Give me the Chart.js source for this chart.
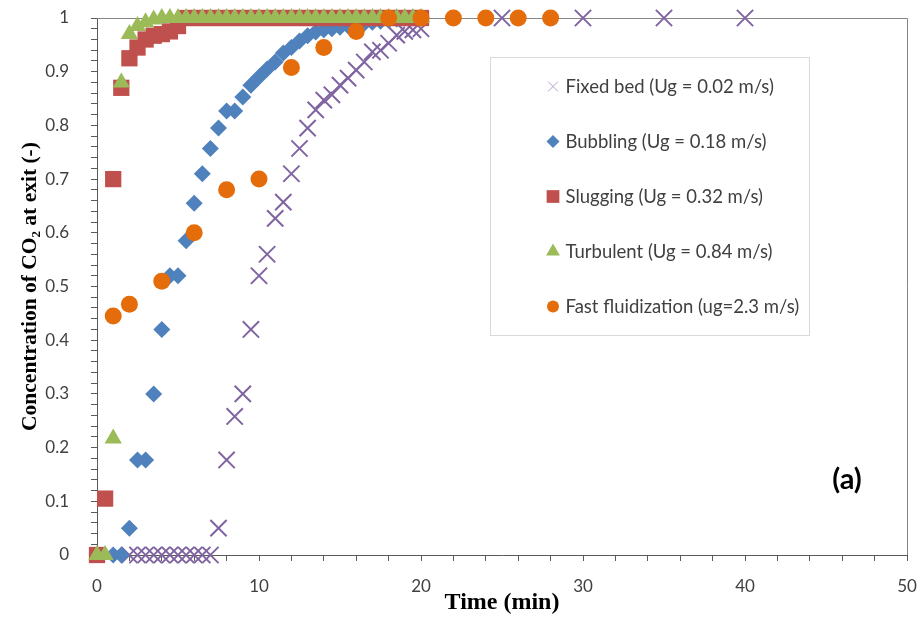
<!DOCTYPE html>
<html>
<head>
<meta charset="utf-8">
<script src="https://cdn.jsdelivr.net/npm/chart.js@4.4.0/dist/chart.umd.min.js"></script>
<style>
body { margin: 0; background: #ffffff; }
</style>
</head>
<body>
<canvas id="co2Chart" width="923" height="617"></canvas>
<script>
// Fixed bed (Ug = 0.02 m/s)
const fixedTime = [2, 2.5, 3, 3.5, 4, 4.5, 5, 5.5, 6, 6.5, 7, 7.5, 8, 8.5, 9, 9.5, 10, 10.5, 11, 11.5, 12, 12.5, 13, 13.5, 14, 14.5, 15, 15.5, 16, 16.5, 17, 17.5, 18, 18.5, 19, 19.5, 20, 25, 30, 35, 40];
const fixedConc = [0, 0, 0, 0, 0, 0, 0, 0, 0, 0, 0, 0.05, 0.177, 0.258, 0.30, 0.42, 0.52, 0.56, 0.627, 0.657, 0.71, 0.757, 0.795, 0.829, 0.847, 0.857, 0.875, 0.888, 0.903, 0.918, 0.937, 0.94, 0.953, 0.968, 0.975, 0.978, 0.98, 1, 1, 1, 1];

// Bubbling (Ug = 0.18 m/s)
const bubblingTime = [1, 1.5, 2, 2.5, 3, 3.5, 4, 4.5, 5, 5.5, 6, 6.5, 7, 7.5, 8, 8.5, 9, 9.5, 10, 10.5, 11, 11.5, 12, 12.5, 13, 13.5, 14, 14.5, 15, 15.5, 16, 16.5, 17, 17.5, 18, 18.5, 19, 19.5, 20];
const bubblingConc = [0, 0, 0.05, 0.177, 0.177, 0.30, 0.42, 0.52, 0.52, 0.585, 0.655, 0.71, 0.757, 0.795, 0.827, 0.827, 0.853, 0.875, 0.89, 0.905, 0.918, 0.935, 0.945, 0.957, 0.967, 0.974, 0.978, 0.98, 0.983, 0.985, 0.988, 0.99, 0.992, 0.994, 0.996, 0.998, 1, 1, 1];

// Slugging (Ug = 0.32 m/s)
const sluggingTime = [0, 0.5, 1, 1.5, 2, 2.5, 3, 3.5, 4, 4.5, 5, 5.5, 6, 6.5, 7, 7.5, 8, 8.5, 9, 9.5, 10, 10.5, 11, 11.5, 12, 12.5, 13, 13.5, 14, 14.5, 15, 15.5, 16, 16.5, 17, 17.5, 18, 18.5, 19, 19.5, 20];
const sluggingConc = [0, 0.105, 0.70, 0.87, 0.925, 0.945, 0.96, 0.967, 0.97, 0.975, 0.985, 1, 1, 1, 1, 1, 1, 1, 1, 1, 1, 1, 1, 1, 1, 1, 1, 1, 1, 1, 1, 1, 1, 1, 1, 1, 1, 1, 1, 1, 1];

// Turbulent (Ug = 0.84 m/s)
const turbulentTime = [0, 0.5, 1, 1.5, 2, 2.5, 3, 3.5, 4, 4.5, 5, 5.5, 6, 6.5, 7, 7.5, 8, 8.5, 9, 9.5, 10, 10.5, 11, 11.5, 12, 12.5, 13, 13.5, 14, 14.5, 15, 15.5, 16, 16.5, 17, 17.5, 18, 18.5, 19, 19.5, 20];
const turbulentConc = [0, 0, 0.217, 0.88, 0.97, 0.985, 0.992, 0.997, 1, 1, 1, 1, 1, 1, 1, 1, 1, 1, 1, 1, 1, 1, 1, 1, 1, 1, 1, 1, 1, 1, 1, 1, 1, 1, 1, 1, 1, 1, 1, 1, 1];

// Fast fluidization (ug=2.3 m/s)
const fastTime = [1, 2, 4, 6, 8, 10, 12, 14, 16, 18, 20, 22, 24, 26, 28];
const fastConc = [0.445, 0.467, 0.51, 0.60, 0.68, 0.70, 0.908, 0.945, 0.975, 1, 1, 1, 1, 1, 1];

const seriesNames = [
    'Fixed bed (Ug = 0.02 m/s)',
    'Bubbling (Ug = 0.18 m/s)',
    'Slugging (Ug = 0.32 m/s)',
    'Turbulent (Ug = 0.84 m/s)',
    'Fast fluidization (ug=2.3 m/s)'
];

const xTickValues = [0, 10, 20, 30, 40, 50];
const yTickValues = [0, 0.1, 0.2, 0.3, 0.4, 0.5, 0.6, 0.7, 0.8, 0.9, 1];

function toPoints(times, values) {
    var pts = [];
    for (var i = 0; i < times.length; i++) {
        pts.push({ x: times[i], y: values[i] });
    }
    return pts;
}

function pickLabel(value, list) {
    for (var i = 0; i < list.length; i++) {
        if (Math.abs(value - list[i]) < 1e-6) return String(list[i]);
    }
    return '';
}

Chart.defaults.font.family = "Lato";
Chart.defaults.font.size = 17;
Chart.defaults.color = "#404040";

// legend marker look, same order as seriesNames
const legendMarks = [
    { pointStyle: 'crossRot', radius: 7, borderWidth: 1, color: '#B3A2C7' },
    { pointStyle: 'rectRot', radius: 6.5, borderWidth: 0, color: '#4F81BD' },
    { pointStyle: 'rect', radius: 9, borderWidth: 0, color: '#C0504D' },
    { pointStyle: 'triangle', radius: 8, borderWidth: 0, color: '#9BBB59' },
    { pointStyle: 'circle', radius: 6, borderWidth: 0, color: '#E46C0A' }
];

let framePlugin = {
    id: 'frame_legend',
    beforeDatasetsDraw: (chart) => {
        const ctx = chart.ctx;
        const a = chart.chartArea;
        ctx.save();
        ctx.strokeStyle = '#868686';
        ctx.lineWidth = 1;
        ctx.beginPath();
        ctx.moveTo(a.left, a.top + 0.5);
        ctx.lineTo(a.right + 0.5, a.top + 0.5);
        ctx.lineTo(a.right + 0.5, a.bottom);
        ctx.stroke();
        ctx.restore();
    },
    afterDatasetsDraw: (chart) => {
        const ctx = chart.ctx;
        const a = chart.chartArea;
        const bx = a.left + 393.5;
        const by = a.top + 39.5;
        ctx.save();
        ctx.fillStyle = '#ffffff';
        ctx.fillRect(bx, by, 319, 278);
        ctx.strokeStyle = '#D9D9D9';
        ctx.lineWidth = 1;
        ctx.strokeRect(bx, by, 319, 278);

        ctx.font = '18.5px Lato';
        ctx.textBaseline = 'middle';
        ctx.textAlign = 'left';
        for (var i = 0; i < seriesNames.length; i++) {
            var cy = by + 29 + i * 55;
            var m = legendMarks[i];
            ctx.fillStyle = m.color;
            ctx.strokeStyle = m.color;
            Chart.helpers.drawPoint(ctx, {
                pointStyle: m.pointStyle,
                radius: m.radius,
                rotation: 0,
                borderWidth: m.borderWidth
            }, bx + 62.5, cy);
            ctx.fillStyle = '#404040';
            ctx.fillText(seriesNames[i], bx + 75, cy + 1);
        }

        ctx.font = 'bold 29px Lato';
        ctx.fillStyle = '#000000';
        ctx.textAlign = 'center';
        ctx.fillText('(a)', a.left + 750, a.top + 462);
        ctx.restore();
    }
};

const ctxChart = document.getElementById('co2Chart');

new Chart(ctxChart, {
    type: 'scatter',
    data: {
        datasets: [
            {
                label: seriesNames[0],
                data: toPoints(fixedTime, fixedConc),
                order: 5,
                clip: false,
                pointStyle: 'crossRot',
                pointRadius: 11.5,
                pointBorderWidth: 2,
                borderColor: '#8064A2',
                backgroundColor: '#8064A2'
            },
            {
                label: seriesNames[1],
                data: toPoints(bubblingTime, bubblingConc),
                order: 4,
                clip: false,
                pointStyle: 'rectRot',
                pointRadius: 8.5,
                pointBorderWidth: 0,
                borderColor: '#4F81BD',
                backgroundColor: '#4F81BD'
            },
            {
                label: seriesNames[2],
                data: toPoints(sluggingTime, sluggingConc),
                order: 3,
                clip: false,
                pointStyle: 'rect',
                pointRadius: 11.5,
                pointBorderWidth: 0,
                borderColor: '#C0504D',
                backgroundColor: '#C0504D'
            },
            {
                label: seriesNames[3],
                data: toPoints(turbulentTime, turbulentConc),
                order: 2,
                clip: false,
                pointStyle: 'triangle',
                pointRadius: 10,
                pointBorderWidth: 0,
                borderColor: '#9BBB59',
                backgroundColor: '#9BBB59'
            },
            {
                label: seriesNames[4],
                data: toPoints(fastTime, fastConc),
                order: 1,
                clip: false,
                pointStyle: 'circle',
                pointRadius: 8.5,
                pointBorderWidth: 0,
                borderColor: '#E46C0A',
                backgroundColor: '#E46C0A'
            }
        ]
    },
    options: {
        responsive: false,
        animation: false,
        layout: { autoPadding: false, padding: { left: 0, top: 18, right: 16, bottom: 0 } },
        plugins: {
            legend: { display: false },
            tooltip: { enabled: false }
        },
        scales: {
            x: {
                type: 'linear',
                min: 0,
                max: 50,
                afterFit: (scale) => {
                    scale.height = 62;
                    scale.paddingLeft = 0;
                    scale.paddingRight = 0;
                },
                border: { color: '#595959', width: 1 },
                grid: { display: true, drawOnChartArea: false, drawTicks: true, tickLength: 6, color: '#595959' },
                ticks: {
                    stepSize: 2,
                    autoSkip: false,
                    maxRotation: 0,
                    padding: 15,
                    callback: (value) => pickLabel(value, xTickValues)
                },
                title: {
                    display: true,
                    text: 'Time (min)',
                    color: '#000000',
                    font: { family: 'Liberation Serif', size: 24, weight: 'bold' },
                    padding: { top: 0, bottom: 0 }
                }
            },
            y: {
                type: 'linear',
                min: 0,
                max: 1,
                afterFit: (scale) => {
                    scale.width = 97;
                    scale.paddingTop = 0;
                    scale.paddingBottom = 0;
                },
                border: { color: '#595959', width: 1 },
                grid: { display: true, drawOnChartArea: false, drawTicks: true, tickLength: 6, color: '#595959' },
                ticks: {
                    stepSize: 0.02,
                    autoSkip: false,
                    padding: 22,
                    callback: (value) => pickLabel(value, yTickValues)
                },
                title: {
                    display: true,
                    text: 'Concentration of CO\u2082 at exit (-)',
                    color: '#000000',
                    font: { family: 'Liberation Serif', size: 21.5, weight: 'bold' },
                    padding: { top: 18, bottom: 0 }
                }
            }
        }
    },
    plugins: [framePlugin]
});
</script>
</body>
</html>
